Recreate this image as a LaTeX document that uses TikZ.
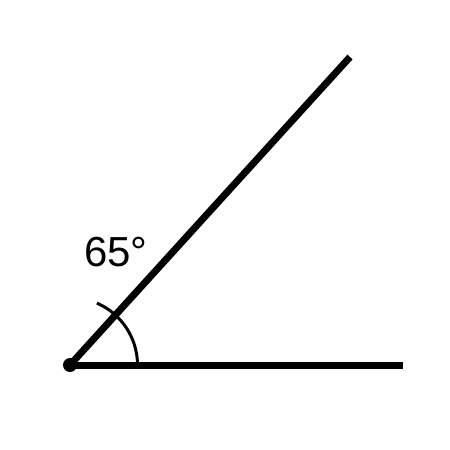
\documentclass[tikz,border=0pt]{standalone}
\usepackage{fontspec}
\setmainfont{Liberation Sans}
\usetikzlibrary{calc}
\begin{document}
\begin{tikzpicture}[x=1pt,y=-1pt,
  ray/.style={line width=7pt},
  anglearc/.style={line width=3pt},
  lbl/.style={font=\fontsize{42}{42}\selectfont, inner sep=0pt}]
\useasboundingbox (0,0) rectangle (450,450);
\coordinate (O) at (70,365);
\coordinate (A) at (403,365);
\coordinate (B) at (350,57);
\draw[ray] (O) -- (A);
\draw[ray] (O) -- (B);
\fill (O) circle (7);
\draw[anglearc] ($(O)+(67.5,0)$) arc[start angle=0, end angle=-66.5, radius=67.5];
\node[lbl] (L) at (116,252) {65°};
\end{tikzpicture}
\end{document}
